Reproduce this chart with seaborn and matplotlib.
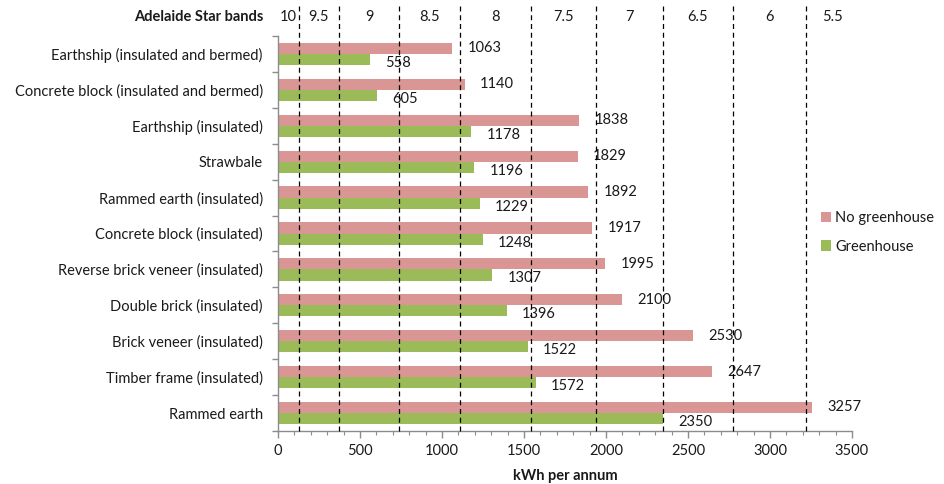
import matplotlib
matplotlib.use("Agg")
import matplotlib.pyplot as plt
from matplotlib.ticker import MultipleLocator, FixedLocator, NullFormatter
from matplotlib.patches import Patch
import numpy as np
import pandas as pd
import seaborn as sns

# Building types and annual heating/cooling energy (kWh per annum)
houses = [
    "Earthship (insulated and bermed)",
    "Concrete block (insulated and bermed)",
    "Earthship (insulated)",
    "Strawbale",
    "Rammed earth (insulated)",
    "Concrete block (insulated)",
    "Reverse brick veneer (insulated)",
    "Double brick (insulated)",
    "Brick veneer (insulated)",
    "Timber frame (insulated)",
    "Rammed earth",
]
no_greenhouse = [1063, 1140, 1838, 1829, 1892, 1917, 1995, 2100, 2530, 2647, 3257]
greenhouse = [558, 605, 1178, 1196, 1229, 1248, 1307, 1396, 1522, 1572, 2350]
series_names = ["No greenhouse", "Greenhouse"]

# Adelaide star band thresholds (kWh per annum) and their labels
band_edges = [125, 370, 740, 1110, 1545, 1940, 2345, 2775, 3220]
band_labels = ["10", "9.5", "9", "8.5", "8", "7.5", "7", "6.5", "6", "5.5"]

colors = {"No greenhouse": "#D99694", "Greenhouse": "#9BBB59"}

df = pd.DataFrame({
    "house": houses * 2,
    "kwh": no_greenhouse + greenhouse,
    "series": [series_names[0]] * len(houses) + [series_names[1]] * len(houses),
})

sns.set_theme(style="white")
plt.rcParams["font.family"] = ["Lato", "DejaVu Sans"]
text_color = "#1a1a1a"

fig = plt.figure(figsize=(9.44, 4.84), dpi=100)
ax = fig.add_axes([0.2945, 0.1095, 0.608, 0.816])

sns.barplot(data=df, y="house", x="kwh", hue="series", order=houses,
            hue_order=series_names, palette=colors, orient="h",
            width=0.62, saturation=1, ax=ax, legend=False, edgecolor="none")

ax.set_xlim(0, 3500)
ax.set_ylim(len(houses) - 0.5, -0.5)

# value labels beside each bar
for i, cont in enumerate(ax.containers):
    anns = ax.bar_label(cont, padding=11, fontsize=10.5, color=text_color)
    if i == 1:
        for a in anns:
            a.xyann = (11, -2.5)

# star band boundaries
for x in band_edges:
    ax.axvline(x, ymin=0, ymax=1.075, color="black", lw=0.9,
               ls=(0, (4, 3)), clip_on=False, zorder=3)

# band labels centred in each band
edges = [0] + band_edges + [3540]
for lab, lo, hi in zip(band_labels, edges[:-1], edges[1:]):
    ax.text((lo + hi) / 2, 1.048, lab, transform=ax.get_xaxis_transform(),
            ha="center", va="center", fontsize=10.5, color=text_color)
ax.text(-0.026, 1.048, "Adelaide Star bands", transform=ax.transAxes,
        ha="right", va="center", fontsize=10.5, fontweight="bold", color=text_color)

# axes styling
sns.despine(ax=ax)
for s in ("left", "bottom"):
    ax.spines[s].set_color("#8c8c8c")
    ax.spines[s].set_linewidth(1.0)

ax.xaxis.set_major_locator(MultipleLocator(500))
ax.xaxis.set_minor_locator(MultipleLocator(100))
ax.tick_params(axis="x", which="major", length=5, width=1, color="#8c8c8c",
               labelsize=10.5, labelcolor=text_color, pad=4, direction="out", bottom=True)
ax.tick_params(axis="x", which="minor", length=3, width=0.8, color="#8c8c8c",
               direction="out", bottom=True)

ax.yaxis.set_minor_locator(FixedLocator(np.arange(-0.5, len(houses), 1.0)))
ax.yaxis.set_minor_formatter(NullFormatter())
ax.tick_params(axis="y", which="major", length=0, labelsize=10.5,
               labelcolor=text_color, pad=11)
ax.tick_params(axis="y", which="minor", length=4, width=1, color="#8c8c8c",
               direction="out", left=True)

ax.set_ylabel("")
ax.set_xlabel("kWh per annum", fontsize=10.5, fontweight="bold",
              color=text_color, labelpad=8)

handles = [Patch(facecolor=colors[n], edgecolor="none", label=n) for n in series_names]
fig.legend(handles=handles, loc="center left", bbox_to_anchor=(0.86, 0.52),
           frameon=False, fontsize=10.5, handlelength=0.7, handleheight=0.7,
           handletextpad=0.3, labelspacing=1.0, labelcolor=text_color,
           borderaxespad=0.2)

fig.savefig("out.png", dpi=100)
